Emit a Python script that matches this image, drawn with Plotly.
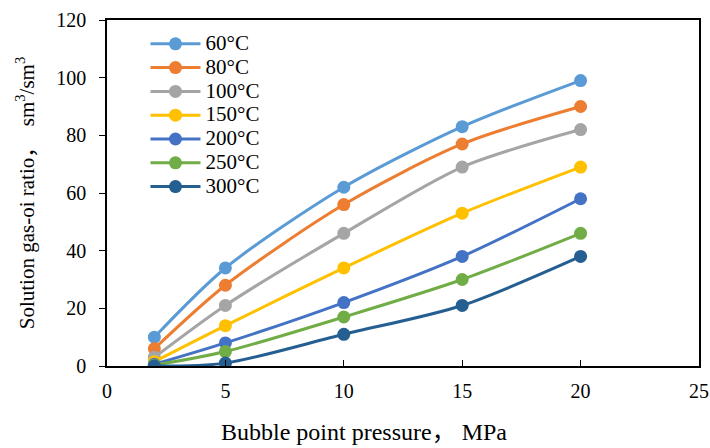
import plotly.graph_objects as go

pressure = [2, 5, 10, 15, 20]
series_names = ["60°C", "80°C", "100°C", "150°C", "200°C", "250°C", "300°C"]
gor_60 = [10, 34, 62, 83, 99]
gor_80 = [6, 28, 56, 77, 90]
gor_100 = [3, 21, 46, 69, 82]
gor_150 = [1.5, 14, 34, 53, 69]
gor_200 = [0.6, 8, 22, 38, 58]
gor_250 = [0.3, 5, 17, 30, 46]
gor_300 = [0, 1, 11, 21, 38]
all_series = [gor_60, gor_80, gor_100, gor_150, gor_200, gor_250, gor_300]
colors = ["#5B9BD5", "#ED7D31", "#A5A5A5", "#FFC000", "#4472C4", "#70AD47", "#255E91"]
x_title = "Bubble point pressure， MPa"
y_title = "Solution gas-oi ratio，  sm<sup>3</sup>/sm<sup>3</sup>"

serif = "'Liberation Serif', 'Noto Sans CJK SC', serif"

fig = go.Figure()
for name, vals, c in zip(series_names, all_series, colors):
    fig.add_trace(go.Scatter(
        x=pressure, y=vals, name="<span style='font-size:21px'>" + name + "</span>",
        mode="lines+markers",
        line=dict(color=c, width=3, shape="spline", smoothing=0.8),
        marker=dict(color=c, size=13),
    ))

fig.add_annotation(text=x_title, xref="paper", yref="paper", x=0.434, y=-0.19,
                   xanchor="center", yanchor="middle", showarrow=False,
                   font=dict(family=serif, size=24, color="black"))

fig.update_layout(
    width=710, height=448,
    margin=dict(l=107, r=11, t=20, b=82),
    paper_bgcolor="white", plot_bgcolor="white",
    font=dict(family=serif, size=20, color="black"),
    showlegend=True,
    legend=dict(x=0.065, y=0.98, xanchor="left", yanchor="top",
                bgcolor="rgba(0,0,0,0)", font=dict(family=serif, size=16, color="black"),
                tracegroupgap=0, itemsizing="trace", itemwidth=50),
    xaxis=dict(range=[0, 25], tickvals=[0, 5, 10, 15, 20, 25], ticks="inside",
               ticklen=6, tickcolor="black", showline=True, linecolor="black",
               linewidth=1.5, mirror=True, showgrid=False, zeroline=False,
               ticklabelstandoff=6, automargin=False,
               tickfont=dict(family=serif, size=20, color="black")),
    yaxis=dict(range=[0, 120], tickvals=[0, 20, 40, 60, 80, 100, 120], ticks="outside",
               ticklen=6, tickcolor="black", showline=True, linecolor="black",
               linewidth=1.5, mirror=True, showgrid=False, zeroline=False,
               ticklabelstandoff=9, automargin=False,
               title=dict(text=y_title, standoff=16,
                          font=dict(family=serif, size=21, color="black")),
               tickfont=dict(family=serif, size=20, color="black")),
)

fig.write_html("out.html")
